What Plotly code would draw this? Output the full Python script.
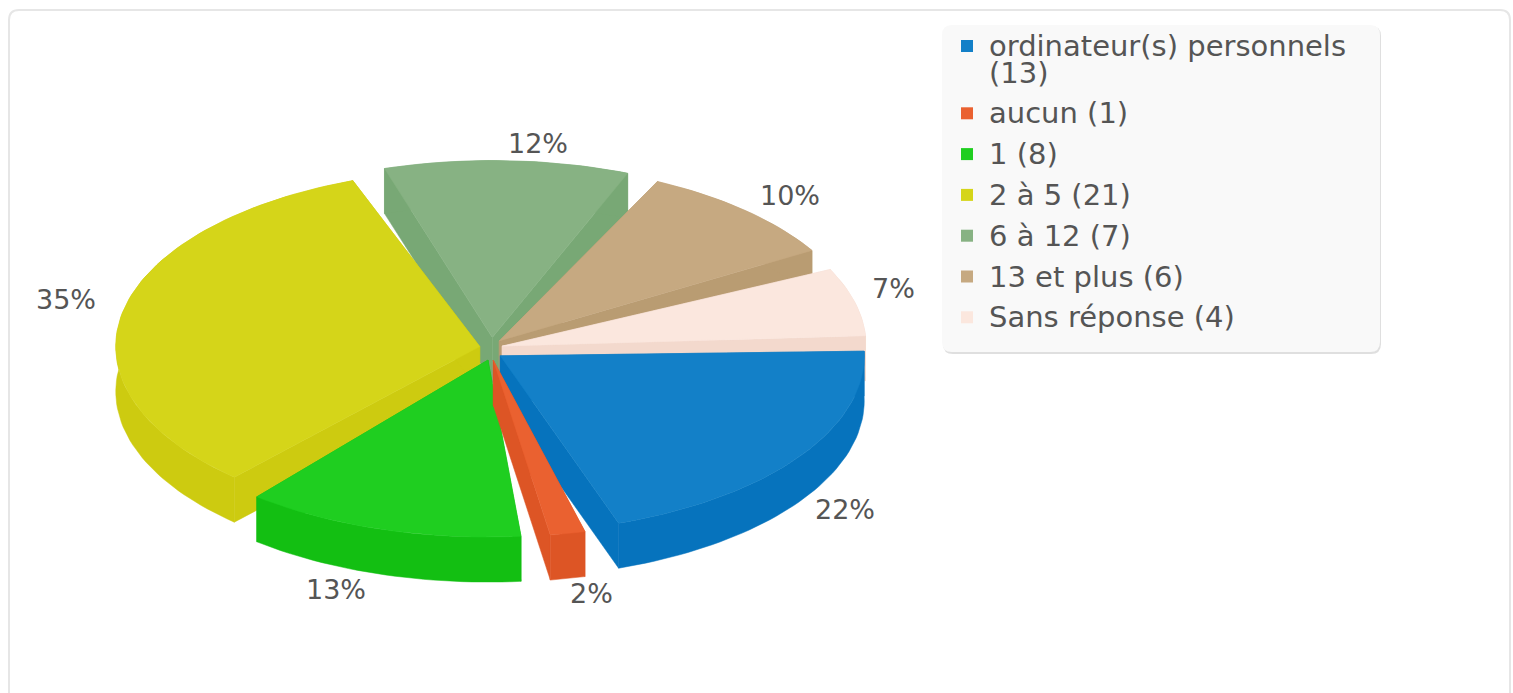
import math
import plotly.graph_objects as go

# ---- data ----
categories = ["ordinateur(s) personnels", "aucun", "1", "2 à 5", "6 à 12", "13 et plus", "Sans réponse"]
counts = [13, 1, 8, 21, 7, 6, 4]
percent_labels = ["22%", "2%", "13%", "35%", "12%", "10%", "7%"]
top_colors = ["#1380c8", "#ea6130", "#1fce20", "#d5d519", "#87b283", "#c6a981", "#fbe7de"]
wall_colors = ["#0673bd", "#dd5525", "#13bf12", "#cdcb10", "#78a875", "#b99c72", "#f3d9cd"]

# ---- projection / styling (pixel space of the page) ----
W, H = 1513, 693
CX, CY = 491, 349
RX, RY = 364, 177
DEPTH = 45
EXPLODE = 11.5
START_DEG = -2.5
SWEEP_SCALE = 0.93
MID_SHIFT_DEG = [-1.75, -0.3, 1.6, -1.5, -4.2, -3, 0]
DRAW_ORDER = [4, 5, 3, 6, 0, 2, 1]
LABEL_RX, LABEL_RY = 430, 205
LABEL_NUDGE = [(8, -6), (15, -1), (-40, -2), (-5, -5), (-2, -2), (-8, -10), (-14, -9)]
FONT = "DejaVu Sans"
TEXT = "#555555"
PCT_SIZE, LEG_SIZE = 27, 29

total = sum(counts)
fig = go.Figure()


def poly(xs, ys, color):
    fig.add_trace(go.Scatter(x=xs, y=ys, mode="lines", fill="toself", fillcolor=color,
                             line=dict(width=0.5, color=color), hoverinfo="skip", showlegend=False))


slices = []
acc = START_DEG
for v, shift in zip(counts, MID_SHIFT_DEG):
    sweep = v / total * 360
    mid = acc + sweep / 2
    half = sweep * SWEEP_SCALE / 2
    slices.append((mid + shift - half, mid + shift + half, mid))
    acc += sweep

for i in DRAW_ORDER:
    a0, a1, mid = slices[i]
    ax = CX + EXPLODE * math.cos(math.radians(mid))
    ay = CY + EXPLODE * math.sin(math.radians(mid))
    n = max(6, int((a1 - a0) / 1.5))
    angs = [math.radians(a0 + (a1 - a0) * k / n) for k in range(n + 1)]
    rim_x = [ax + RX * math.cos(t) for t in angs]
    rim_y = [ay + RY * math.sin(t) for t in angs]
    # radial walls
    for rx, ry in ((rim_x[0], rim_y[0]), (rim_x[-1], rim_y[-1])):
        poly([ax, rx, rx, ax, ax], [ay, ry, ry + DEPTH, ay + DEPTH, ay], wall_colors[i])
    # outer wall
    poly(rim_x + rim_x[::-1] + [rim_x[0]],
         rim_y + [y + DEPTH for y in rim_y[::-1]] + [rim_y[0]], wall_colors[i])
    # top face
    poly([ax] + rim_x + [ax], [ay] + rim_y + [ay], top_colors[i])

annotations = []
for i, lab in enumerate(percent_labels):
    _, _, mid = slices[i]
    c, s = math.cos(math.radians(mid)), math.sin(math.radians(mid))
    lx = CX + LABEL_RX * c + LABEL_NUDGE[i][0]
    ly = CY + LABEL_RY * s + (DEPTH if s > 0 else 0) + LABEL_NUDGE[i][1]
    annotations.append(dict(x=lx, y=ly, text=lab, showarrow=False, xanchor="center", yanchor="middle",
                            font=dict(family=FONT, size=PCT_SIZE, color=TEXT)))

# ---- legend ----
LEG_X0, LEG_X1, LEG_Y0, LEG_Y1 = 942, 1380, 25, 352
SWATCH_X, TEXT_X = 967, 987
LEG_FIRST_Y, WRAP_STEP, ROW_STEP = 46, 26.5, 40.8
y = LEG_FIRST_Y
sw_x, sw_y = [], []
for i, (cat, v) in enumerate(zip(categories, counts)):
    sw_x.append(SWATCH_X)
    sw_y.append(y)
    annotations.append(dict(x=TEXT_X, y=y, text=cat if i == 0 else f"{cat} ({v})", showarrow=False,
                            xanchor="left", yanchor="middle",
                            font=dict(family=FONT, size=LEG_SIZE, color=TEXT)))
    if i == 0:
        y += WRAP_STEP
        annotations.append(dict(x=TEXT_X, y=y, text=f"({v})", showarrow=False, xanchor="left",
                                yanchor="middle", font=dict(family=FONT, size=LEG_SIZE, color=TEXT)))
    y += ROW_STEP
fig.add_trace(go.Scatter(x=sw_x, y=sw_y, mode="markers", hoverinfo="skip", showlegend=False,
                         marker=dict(symbol="square", size=12, color=top_colors, line=dict(width=0))))


def rrect(x0, y0, x1, y1, r):
    return (f"M{x0 + r},{y0} L{x1 - r},{y0} Q{x1},{y0} {x1},{y0 + r} L{x1},{y1 - r} Q{x1},{y1} {x1 - r},{y1} "
            f"L{x0 + r},{y1} Q{x0},{y1} {x0},{y1 - r} L{x0},{y0 + r} Q{x0},{y0} {x0 + r},{y0} Z")


shapes = [
    dict(type="path", path=rrect(9, 10, 1510, 710, 10), line=dict(color="#e6e6e6", width=2),
         fillcolor="#ffffff", layer="below"),
    dict(type="path", path=rrect(LEG_X0 + 1, LEG_Y0 + 1, LEG_X1 + 1, LEG_Y1 + 2, 10),
         line=dict(width=0), fillcolor="#dfdfdf", layer="below"),
    dict(type="path", path=rrect(LEG_X0, LEG_Y0, LEG_X1, LEG_Y1, 10),
         line=dict(width=0), fillcolor="#f9f9f9", layer="below"),
]

fig.update_layout(
    width=W, height=H, margin=dict(l=0, r=0, t=0, b=0), paper_bgcolor="#ffffff", plot_bgcolor="#ffffff",
    xaxis=dict(range=[0, W], visible=False, fixedrange=True),
    yaxis=dict(range=[H, 0], visible=False, fixedrange=True),
    annotations=annotations, shapes=shapes, showlegend=False,
)
fig.write_html("out.html", config=dict(displayModeBar=False),
               post_script="document.body.style.margin='0';document.documentElement.style.overflow='hidden';")
